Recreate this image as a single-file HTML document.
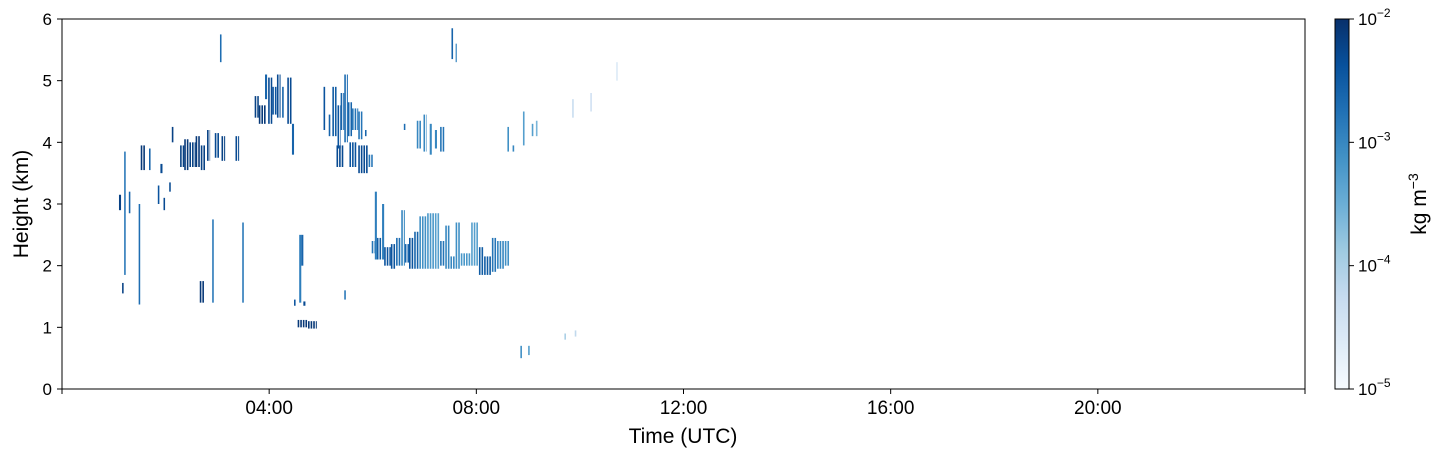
<!DOCTYPE html>
<html><head><meta charset="utf-8"><style>
body{margin:0;background:#fff;font-family:"Liberation Sans","DejaVu Sans",sans-serif;}
</style></head><body>
<svg id="chart" width="1446" height="458" xmlns="http://www.w3.org/2000/svg" font-family="Liberation Sans, DejaVu Sans, sans-serif">
<defs>
<linearGradient id="blues" x1="0" y1="1" x2="0" y2="0">
<stop offset="0" stop-color="#f7fbff"/><stop offset="0.125" stop-color="#deebf7"/><stop offset="0.25" stop-color="#c6dbef"/><stop offset="0.375" stop-color="#9ecae1"/><stop offset="0.5" stop-color="#6baed6"/><stop offset="0.625" stop-color="#4292c6"/><stop offset="0.75" stop-color="#2171b5"/><stop offset="0.875" stop-color="#08519c"/><stop offset="1" stop-color="#08306b"/>
</linearGradient>
</defs>
<g id="marks"></g>
<rect x="62" y="19" width="1243" height="370" fill="none" stroke="#000" stroke-width="1"/>
<g id="axes"></g>
<text x="683" y="443" font-size="21" text-anchor="middle">Time (UTC)</text>
<text transform="translate(28,204) rotate(-90)" font-size="21" text-anchor="middle">Height (km)</text>
<rect x="1335" y="19" width="14" height="370" fill="url(#blues)" stroke="#000" stroke-width="1"/>
<g id="cbar"></g>
<text transform="translate(1426,204) rotate(-90)" font-size="21" text-anchor="middle">kg m<tspan dy="-8" font-size="14">−3</tspan></text>
</svg>
<script>
const xTickHours=[0,4,8,12,16,20,24];
const xTickLabels=["","04:00","08:00","12:00","16:00","20:00",""];
const yTicks=[0,1,2,3,4,5,6];
const cbarExps=[-5,-4,-3,-2];
// cells: [startHour, endHour, bottomKm, topKm, log10(value)]
const cellStart=[1.10,1.16,1.20,1.29,1.48,1.52,1.68,1.85,1.90,1.96,2.07,2.12,2.28,2.36,2.46,2.58,2.68,2.66,2.80,2.90,2.95,3.05,3.08,3.35,3.48,
3.72,3.80,3.92,3.98,4.06,4.15,4.25,4.35,4.44,4.58,4.62,4.55,4.75,4.48,4.66,
5.05,5.15,5.22,5.32,5.38,5.45,5.52,5.60,5.72,5.85,5.30,5.55,5.72,5.92,5.45,
5.98,6.04,6.08,6.18,6.22,6.35,6.45,6.55,6.62,6.70,6.80,6.90,7.05,7.20,7.30,7.40,7.50,7.60,7.70,7.90,8.05,8.15,8.30,8.40,8.55,
6.60,6.85,6.98,7.10,7.20,7.30,7.52,7.60,8.60,8.70,8.90,9.07,9.15,8.85,9.00,9.70,9.90,9.85,10.20,10.70];
const cellEnd=[1.14,1.19,1.23,1.32,1.51,1.62,1.71,1.88,1.94,1.99,2.10,2.17,2.36,2.46,2.58,2.68,2.78,2.75,2.86,2.93,3.05,3.08,3.15,3.42,3.51,
3.80,3.95,3.96,4.06,4.15,4.22,4.30,4.45,4.48,4.62,4.66,4.75,4.92,4.51,4.70,
5.10,5.20,5.32,5.38,5.45,5.52,5.60,5.72,5.80,5.88,5.45,5.70,5.92,6.00,5.48,
6.04,6.08,6.18,6.22,6.35,6.45,6.55,6.62,6.70,6.80,6.90,7.05,7.20,7.30,7.40,7.50,7.60,7.70,7.90,8.05,8.15,8.30,8.40,8.55,8.65,
6.63,6.95,7.04,7.14,7.24,7.38,7.57,7.62,8.65,8.75,8.95,9.12,9.20,8.90,9.05,9.75,9.95,9.90,10.25,10.75];
const cellBottom=[2.9,1.55,1.85,2.85,1.37,3.55,3.55,3.0,3.5,2.9,3.2,4.0,3.6,3.55,3.6,3.6,3.55,1.4,3.7,1.4,3.75,5.3,3.7,3.7,1.4,
4.4,4.3,4.7,4.3,4.45,4.4,4.4,4.3,3.8,1.4,2.0,1.0,0.98,1.35,1.35,
4.2,4.1,4.1,3.9,4.2,4.0,4.1,4.2,4.05,4.1,3.6,3.6,3.5,3.6,1.45,
2.2,2.1,2.1,2.1,2.0,1.95,2.0,2.0,2.05,1.95,1.95,1.95,1.95,1.95,2.0,1.95,1.95,1.95,2.0,2.0,1.85,1.85,1.9,1.95,2.0,
4.2,3.9,3.85,3.8,3.9,3.85,5.35,5.3,3.85,3.85,3.95,4.1,4.1,0.5,0.55,0.8,0.85,4.4,4.5,5.0];
const cellTop=[3.15,1.72,3.85,3.2,3.0,3.95,3.9,3.3,3.65,3.1,3.35,4.25,3.95,4.05,4.0,4.1,3.95,1.75,4.2,2.75,4.15,5.75,4.1,4.1,2.7,
4.75,4.6,5.1,5.05,4.9,5.1,4.9,5.05,4.3,2.5,2.5,1.12,1.1,1.45,1.42,
4.9,4.45,4.9,4.6,4.8,5.1,4.65,4.55,4.5,4.2,3.95,4.0,3.95,3.8,1.6,
2.4,3.2,2.45,3.0,2.3,2.35,2.45,2.9,2.35,2.45,2.55,2.8,2.85,2.85,2.4,2.65,2.15,2.7,2.2,2.7,2.3,2.15,2.45,2.4,2.4,
4.3,4.35,4.45,4.3,4.2,4.25,5.85,5.6,4.25,3.95,4.5,4.3,4.35,0.7,0.7,0.9,0.95,4.7,4.8,5.3];
const cellLogValue=[-2.2,-2.2,-2.8,-2.6,-2.7,-2.1,-2.6,-2.4,-2.3,-2.3,-2.3,-2.2,-2.2,-2.1,-2.2,-2.1,-2.2,-2.1,-2.2,-2.8,-2.3,-2.7,-2.2,-2.3,-2.8,
-2.2,-2.1,-2.6,-2.3,-2.4,-2.3,-2.6,-2.3,-2.6,-2.9,-2.6,-2.1,-2.1,-2.4,-2.3,
-2.4,-2.6,-2.5,-2.4,-2.6,-2.7,-2.6,-2.8,-2.8,-2.6,-2.3,-2.4,-2.3,-2.8,-2.8,
-2.8,-2.9,-2.5,-2.9,-2.4,-2.4,-2.7,-3.0,-2.6,-2.4,-2.6,-3.1,-3.2,-3.3,-2.8,-3.0,-3.0,-3.1,-3.2,-3.3,-2.5,-2.5,-2.8,-3.0,-3.1,
-2.7,-3.0,-3.0,-3.0,-3.0,-2.8,-2.6,-3.0,-3.1,-3.0,-3.3,-3.3,-3.6,-3.1,-3.3,-4.0,-4.2,-4.3,-4.4,-4.6];

const NS="http://www.w3.org/2000/svg";
const X0=62,X1=1305,Y0=389,Y1=19;
const xs=h=>X0+(h/24)*(X1-X0);
const ys=k=>Y0-(k/6)*(Y0-Y1);
const cs=e=>Y0-((e+5)/3)*(Y0-Y1);
const stops=[[247,251,255],[222,235,247],[198,219,239],[158,202,225],[107,174,214],[66,146,198],[33,113,181],[8,81,156],[8,48,107]];
function color(lv){let t=Math.max(0,Math.min(1,(lv+5)/3))*8;let i=Math.min(7,Math.floor(t)),f=t-i;const a=stops[i],b=stops[i+1];
return `rgb(${a.map((v,k)=>Math.round(v+(b[k]-v)*f)).join(',')})`;}
function mk(tag,attrs,parent){const e=document.createElementNS(NS,tag);for(const k in attrs)e.setAttribute(k,attrs[k]);parent.appendChild(e);return e;}
const marks=document.getElementById('marks');
for(let i=0;i<cellStart.length;i++){
 const x0=xs(cellStart[i]),x1=xs(cellEnd[i]);
 const w=x1-x0;
 const g=mk('g',{},marks);
 
 
 const col=color(cellLogValue[i]);
 if(w<=2.5){
  mk('rect',{x:x0,y:ys(cellTop[i]),width:Math.max(1.2,w),height:ys(cellBottom[i])-ys(cellTop[i]),fill:col},g);
 } else {
  // render as thin profile stripes like a time-height plot
  for(let x=x0;x<x1;x+=2.6){
   mk('rect',{x:x,y:ys(cellTop[i]),width:Math.min(1.6,x1-x),height:ys(cellBottom[i])-ys(cellTop[i]),fill:col},g);
  }
 }
}
const axes=document.getElementById('axes');
xTickHours.forEach((h,i)=>{
 const l=mk('line',{x1:xs(h),x2:xs(h),y1:Y0,y2:Y0+5,stroke:'#000'},axes);
 
 
 if(xTickLabels[i]){const t=mk('text',{x:xs(h),y:Y0+25,'font-size':19,'text-anchor':'middle'},axes);t.textContent=xTickLabels[i];
 
 }
});
yTicks.forEach(k=>{
 const l=mk('line',{x1:X0-5,x2:X0,y1:ys(k),y2:ys(k),stroke:'#000'},axes);
 
 
 const t=mk('text',{x:X0-10,y:ys(k)+6,'font-size':17,'text-anchor':'end'},axes);t.textContent=k;
 
 
});
const cbar=document.getElementById('cbar');
cbarExps.forEach(e=>{
 const l=mk('line',{x1:1349,x2:1354,y1:cs(e),y2:cs(e),stroke:'#000'},cbar);
 
 
 const t=mk('text',{x:1358,y:cs(e)+6,'font-size':17},cbar);
 
 
 t.textContent='10';const s=mk('tspan',{dy:-8,'font-size':12},t);s.textContent=String(e).replace('-','−');
});
</script>
</body></html>
